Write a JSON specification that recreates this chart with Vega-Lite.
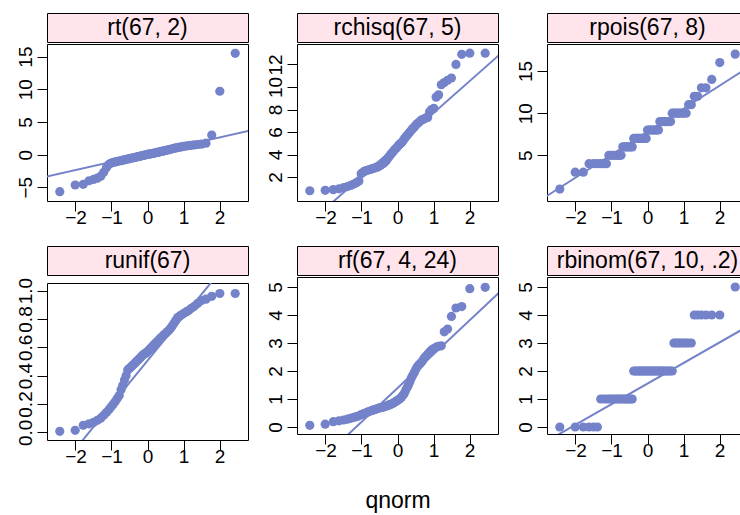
{
"$schema": "https://vega.github.io/schema/vega-lite/v6.json",
"padding": {"left": 15, "top": 12, "right": 0, "bottom": 0},
"background": "white",
"columns": 3,
"spacing": {"row": 17, "column": 16},
"datasets": {
"rt": [{"q":-2.435,"v":-5.67},{"q":-2.007,"v":-4.65},{"q":-1.783,"v":-4.55},{"q":-1.623,"v":-4.0},{"q":-1.497,"v":-3.8},{"q":-1.391,"v":-3.6},{"q":-1.299,"v":-3.3},{"q":-1.216,"v":-2.7},{"q":-1.141,"v":-2.0},{"q":-1.072,"v":-1.5},{"q":-1.008,"v":-1.3},{"q":-0.948,"v":-1.2},{"q":-0.891,"v":-1.12},{"q":-0.837,"v":-1.05},{"q":-0.784,"v":-0.98},{"q":-0.734,"v":-0.92},{"q":-0.686,"v":-0.86},{"q":-0.639,"v":-0.8},{"q":-0.595,"v":-0.74},{"q":-0.55,"v":-0.68},{"q":-0.507,"v":-0.62},{"q":-0.466,"v":-0.57},{"q":-0.424,"v":-0.52},{"q":-0.383,"v":-0.47},{"q":-0.343,"v":-0.42},{"q":-0.304,"v":-0.37},{"q":-0.264,"v":-0.32},{"q":-0.226,"v":-0.27},{"q":-0.188,"v":-0.22},{"q":-0.15,"v":-0.17},{"q":-0.112,"v":-0.12},{"q":-0.075,"v":-0.07},{"q":-0.037,"v":-0.02},{"q":0,"v":0.02},{"q":0.037,"v":0.06},{"q":0.075,"v":0.1},{"q":0.112,"v":0.15},{"q":0.15,"v":0.19},{"q":0.188,"v":0.24},{"q":0.226,"v":0.28},{"q":0.264,"v":0.33},{"q":0.304,"v":0.38},{"q":0.343,"v":0.43},{"q":0.383,"v":0.48},{"q":0.424,"v":0.53},{"q":0.466,"v":0.58},{"q":0.507,"v":0.64},{"q":0.55,"v":0.7},{"q":0.595,"v":0.76},{"q":0.639,"v":0.82},{"q":0.686,"v":0.88},{"q":0.734,"v":0.95},{"q":0.784,"v":1.02},{"q":0.837,"v":1.08},{"q":0.891,"v":1.14},{"q":0.948,"v":1.2},{"q":1.008,"v":1.26},{"q":1.072,"v":1.32},{"q":1.141,"v":1.38},{"q":1.216,"v":1.43},{"q":1.299,"v":1.48},{"q":1.391,"v":1.55},{"q":1.497,"v":1.6},{"q":1.623,"v":1.75},{"q":1.783,"v":3.0},{"q":2.007,"v":9.7},{"q":2.435,"v":15.5}],
"rt_l": [{"q":-3,"v":-3.62},{"q":3,"v":3.88}],
"rchisq": [{"q":-2.435,"v":0.78},{"q":-2.007,"v":0.82},{"q":-1.783,"v":0.88},{"q":-1.623,"v":0.95},{"q":-1.497,"v":1.05},{"q":-1.391,"v":1.15},{"q":-1.299,"v":1.25},{"q":-1.216,"v":1.38},{"q":-1.141,"v":1.5},{"q":-1.072,"v":1.65},{"q":-1.008,"v":2.3},{"q":-0.948,"v":2.45},{"q":-0.891,"v":2.55},{"q":-0.837,"v":2.6},{"q":-0.784,"v":2.65},{"q":-0.734,"v":2.7},{"q":-0.686,"v":2.75},{"q":-0.639,"v":2.8},{"q":-0.595,"v":2.85},{"q":-0.55,"v":2.9},{"q":-0.507,"v":3.0},{"q":-0.466,"v":3.05},{"q":-0.424,"v":3.15},{"q":-0.383,"v":3.25},{"q":-0.343,"v":3.35},{"q":-0.304,"v":3.5},{"q":-0.264,"v":3.7},{"q":-0.226,"v":3.85},{"q":-0.188,"v":4.0},{"q":-0.15,"v":4.15},{"q":-0.112,"v":4.3},{"q":-0.075,"v":4.45},{"q":-0.037,"v":4.55},{"q":0,"v":4.7},{"q":0.037,"v":4.85},{"q":0.075,"v":4.95},{"q":0.112,"v":5.05},{"q":0.15,"v":5.2},{"q":0.188,"v":5.4},{"q":0.226,"v":5.55},{"q":0.264,"v":5.7},{"q":0.304,"v":5.85},{"q":0.343,"v":6.0},{"q":0.383,"v":6.15},{"q":0.424,"v":6.3},{"q":0.466,"v":6.45},{"q":0.507,"v":6.6},{"q":0.55,"v":6.75},{"q":0.595,"v":6.85},{"q":0.639,"v":7.0},{"q":0.686,"v":7.1},{"q":0.734,"v":7.15},{"q":0.784,"v":7.25},{"q":0.837,"v":7.3},{"q":0.891,"v":7.8},{"q":0.948,"v":8.0},{"q":1.008,"v":8.1},{"q":1.072,"v":9.1},{"q":1.141,"v":9.3},{"q":1.216,"v":10.2},{"q":1.299,"v":10.4},{"q":1.391,"v":10.6},{"q":1.497,"v":10.8},{"q":1.623,"v":12.0},{"q":1.783,"v":12.9},{"q":2.007,"v":13.0},{"q":2.435,"v":13.0}],
"rchisq_l": [{"q":-3,"v":-3.63},{"q":3,"v":13.35}],
"rpois": [{"q":-2.435,"v":1},{"q":-2.007,"v":3},{"q":-1.783,"v":3},{"q":-1.623,"v":4},{"q":-1.497,"v":4},{"q":-1.391,"v":4},{"q":-1.299,"v":4},{"q":-1.216,"v":4},{"q":-1.141,"v":4},{"q":-1.072,"v":5},{"q":-1.008,"v":5},{"q":-0.948,"v":5},{"q":-0.891,"v":5},{"q":-0.837,"v":5},{"q":-0.784,"v":5},{"q":-0.734,"v":5},{"q":-0.686,"v":6},{"q":-0.639,"v":6},{"q":-0.595,"v":6},{"q":-0.55,"v":6},{"q":-0.507,"v":6},{"q":-0.466,"v":6},{"q":-0.424,"v":6},{"q":-0.383,"v":7},{"q":-0.343,"v":7},{"q":-0.304,"v":7},{"q":-0.264,"v":7},{"q":-0.226,"v":7},{"q":-0.188,"v":7},{"q":-0.15,"v":7},{"q":-0.112,"v":7},{"q":-0.075,"v":7},{"q":-0.037,"v":7},{"q":0,"v":8},{"q":0.037,"v":8},{"q":0.075,"v":8},{"q":0.112,"v":8},{"q":0.15,"v":8},{"q":0.188,"v":8},{"q":0.226,"v":8},{"q":0.264,"v":8},{"q":0.304,"v":8},{"q":0.343,"v":9},{"q":0.383,"v":9},{"q":0.424,"v":9},{"q":0.466,"v":9},{"q":0.507,"v":9},{"q":0.55,"v":9},{"q":0.595,"v":9},{"q":0.639,"v":9},{"q":0.686,"v":10},{"q":0.734,"v":10},{"q":0.784,"v":10},{"q":0.837,"v":10},{"q":0.891,"v":10},{"q":0.948,"v":10},{"q":1.008,"v":10},{"q":1.072,"v":10},{"q":1.141,"v":11},{"q":1.216,"v":11},{"q":1.299,"v":12},{"q":1.391,"v":12},{"q":1.497,"v":13},{"q":1.623,"v":13},{"q":1.783,"v":14},{"q":2.007,"v":16},{"q":2.435,"v":17}],
"rpois_l": [{"q":-3,"v":-0.39},{"q":3,"v":15.99}],
"runif": [{"q":-2.435,"v":0.007},{"q":-2.007,"v":0.014},{"q":-1.783,"v":0.05},{"q":-1.623,"v":0.06},{"q":-1.497,"v":0.07},{"q":-1.391,"v":0.085},{"q":-1.299,"v":0.1},{"q":-1.216,"v":0.12},{"q":-1.141,"v":0.14},{"q":-1.072,"v":0.16},{"q":-1.008,"v":0.18},{"q":-0.948,"v":0.2},{"q":-0.891,"v":0.22},{"q":-0.837,"v":0.24},{"q":-0.784,"v":0.26},{"q":-0.734,"v":0.3},{"q":-0.686,"v":0.33},{"q":-0.639,"v":0.37},{"q":-0.595,"v":0.4},{"q":-0.55,"v":0.44},{"q":-0.507,"v":0.45},{"q":-0.466,"v":0.46},{"q":-0.424,"v":0.47},{"q":-0.383,"v":0.48},{"q":-0.343,"v":0.49},{"q":-0.304,"v":0.5},{"q":-0.264,"v":0.51},{"q":-0.226,"v":0.52},{"q":-0.188,"v":0.53},{"q":-0.15,"v":0.54},{"q":-0.112,"v":0.55},{"q":-0.075,"v":0.555},{"q":-0.037,"v":0.56},{"q":0,"v":0.57},{"q":0.037,"v":0.58},{"q":0.075,"v":0.59},{"q":0.112,"v":0.6},{"q":0.15,"v":0.61},{"q":0.188,"v":0.62},{"q":0.226,"v":0.63},{"q":0.264,"v":0.64},{"q":0.304,"v":0.65},{"q":0.343,"v":0.66},{"q":0.383,"v":0.67},{"q":0.424,"v":0.68},{"q":0.466,"v":0.69},{"q":0.507,"v":0.7},{"q":0.55,"v":0.71},{"q":0.595,"v":0.72},{"q":0.639,"v":0.735},{"q":0.686,"v":0.75},{"q":0.734,"v":0.77},{"q":0.784,"v":0.79},{"q":0.837,"v":0.81},{"q":0.891,"v":0.82},{"q":0.948,"v":0.83},{"q":1.008,"v":0.84},{"q":1.072,"v":0.85},{"q":1.141,"v":0.86},{"q":1.216,"v":0.875},{"q":1.299,"v":0.89},{"q":1.391,"v":0.91},{"q":1.497,"v":0.93},{"q":1.623,"v":0.94},{"q":1.783,"v":0.96},{"q":2.007,"v":0.98},{"q":2.435,"v":0.98}],
"runif_l": [{"q":-3,"v":-0.43},{"q":3,"v":1.442}],
"rf": [{"q":-2.435,"v":0.06},{"q":-2.007,"v":0.1},{"q":-1.783,"v":0.19},{"q":-1.623,"v":0.22},{"q":-1.497,"v":0.25},{"q":-1.391,"v":0.28},{"q":-1.299,"v":0.31},{"q":-1.216,"v":0.34},{"q":-1.141,"v":0.37},{"q":-1.072,"v":0.4},{"q":-1.008,"v":0.44},{"q":-0.948,"v":0.47},{"q":-0.891,"v":0.5},{"q":-0.837,"v":0.53},{"q":-0.784,"v":0.55},{"q":-0.734,"v":0.58},{"q":-0.686,"v":0.6},{"q":-0.639,"v":0.62},{"q":-0.595,"v":0.64},{"q":-0.55,"v":0.66},{"q":-0.507,"v":0.68},{"q":-0.466,"v":0.69},{"q":-0.424,"v":0.7},{"q":-0.383,"v":0.72},{"q":-0.343,"v":0.73},{"q":-0.304,"v":0.75},{"q":-0.264,"v":0.77},{"q":-0.226,"v":0.79},{"q":-0.188,"v":0.81},{"q":-0.15,"v":0.83},{"q":-0.112,"v":0.86},{"q":-0.075,"v":0.89},{"q":-0.037,"v":0.92},{"q":0,"v":0.95},{"q":0.037,"v":0.98},{"q":0.075,"v":1.02},{"q":0.112,"v":1.07},{"q":0.15,"v":1.13},{"q":0.188,"v":1.2},{"q":0.226,"v":1.3},{"q":0.264,"v":1.4},{"q":0.304,"v":1.5},{"q":0.343,"v":1.62},{"q":0.383,"v":1.75},{"q":0.424,"v":1.85},{"q":0.466,"v":1.95},{"q":0.507,"v":2.05},{"q":0.55,"v":2.15},{"q":0.595,"v":2.22},{"q":0.639,"v":2.28},{"q":0.686,"v":2.35},{"q":0.734,"v":2.45},{"q":0.784,"v":2.52},{"q":0.837,"v":2.6},{"q":0.891,"v":2.68},{"q":0.948,"v":2.75},{"q":1.008,"v":2.8},{"q":1.072,"v":2.85},{"q":1.141,"v":2.88},{"q":1.216,"v":2.9},{"q":1.299,"v":3.4},{"q":1.391,"v":3.5},{"q":1.497,"v":3.95},{"q":1.623,"v":4.25},{"q":1.783,"v":4.3},{"q":2.007,"v":4.94},{"q":2.435,"v":4.99}],
"rf_l": [{"q":-3,"v":-2.24},{"q":3,"v":5.02}],
"rbinom": [{"q":-2.435,"v":0},{"q":-2.007,"v":0},{"q":-1.783,"v":0},{"q":-1.623,"v":0},{"q":-1.497,"v":0},{"q":-1.391,"v":0},{"q":-1.299,"v":1},{"q":-1.216,"v":1},{"q":-1.141,"v":1},{"q":-1.072,"v":1},{"q":-1.008,"v":1},{"q":-0.948,"v":1},{"q":-0.891,"v":1},{"q":-0.837,"v":1},{"q":-0.784,"v":1},{"q":-0.734,"v":1},{"q":-0.686,"v":1},{"q":-0.639,"v":1},{"q":-0.595,"v":1},{"q":-0.55,"v":1},{"q":-0.507,"v":1},{"q":-0.466,"v":1},{"q":-0.424,"v":1},{"q":-0.383,"v":2},{"q":-0.343,"v":2},{"q":-0.304,"v":2},{"q":-0.264,"v":2},{"q":-0.226,"v":2},{"q":-0.188,"v":2},{"q":-0.15,"v":2},{"q":-0.112,"v":2},{"q":-0.075,"v":2},{"q":-0.037,"v":2},{"q":0,"v":2},{"q":0.037,"v":2},{"q":0.075,"v":2},{"q":0.112,"v":2},{"q":0.15,"v":2},{"q":0.188,"v":2},{"q":0.226,"v":2},{"q":0.264,"v":2},{"q":0.304,"v":2},{"q":0.343,"v":2},{"q":0.383,"v":2},{"q":0.424,"v":2},{"q":0.466,"v":2},{"q":0.507,"v":2},{"q":0.55,"v":2},{"q":0.595,"v":2},{"q":0.639,"v":2},{"q":0.686,"v":2},{"q":0.734,"v":3},{"q":0.784,"v":3},{"q":0.837,"v":3},{"q":0.891,"v":3},{"q":0.948,"v":3},{"q":1.008,"v":3},{"q":1.072,"v":3},{"q":1.141,"v":3},{"q":1.216,"v":3},{"q":1.299,"v":4},{"q":1.391,"v":4},{"q":1.497,"v":4},{"q":1.623,"v":4},{"q":1.783,"v":4},{"q":2.007,"v":4},{"q":2.435,"v":5}],
"rbinom_l": [{"q":-3,"v":-0.655},{"q":3,"v":3.755}]
},
"concat": [
{"spacing": 0, "vconcat": [
 {"width": 201, "height": 29, "data": {"values": [{"t": "rt(67, 2)"}]}, "mark": {"type": "text", "fontSize": 23, "color": "black"}, "encoding": {"text": {"field": "t", "type": "nominal"}}, "view": {"fill": "#ffe4ec", "stroke": "black"}},
 {"width": 201, "height": 157, "view": {"stroke": "black", "fill": "white"},
  "encoding": {
   "x": {"field": "q", "type": "quantitative", "scale": {"domain": [-2.79, 2.79], "nice": false, "zero": false}, "axis": {"values": [-2,-1,0,1,2], "title": null, "labelOverlap": false}},
   "y": {"field": "v", "type": "quantitative", "scale": {"domain": [-7.1, 16.93], "nice": false, "zero": false}, "axis": {"values": [-5,0,5,10,15], "title": null, "labelOverlap": false}}},
  "layer": [
  {"data": {"name": "rt"}, "mark": {"type": "circle"}},
  {"data": {"name": "rt_l"}, "mark": {"type": "line", "clip": true}}
 ]}
]},
{"spacing": 0, "vconcat": [
 {"width": 201, "height": 29, "data": {"values": [{"t": "rchisq(67, 5)"}]}, "mark": {"type": "text", "fontSize": 23, "color": "black"}, "encoding": {"text": {"field": "t", "type": "nominal"}}, "view": {"fill": "#ffe4ec", "stroke": "black"}},
 {"width": 201, "height": 157, "view": {"stroke": "black", "fill": "white"},
  "encoding": {
   "x": {"field": "q", "type": "quantitative", "scale": {"domain": [-2.79, 2.79], "nice": false, "zero": false}, "axis": {"values": [-2,-1,0,1,2], "title": null, "labelOverlap": false}},
   "y": {"field": "v", "type": "quantitative", "scale": {"domain": [-0.13, 13.82], "nice": false, "zero": false}, "axis": {"values": [2,4,6,8,10,12], "title": null, "labelOverlap": false}}},
  "layer": [
  {"data": {"name": "rchisq"}, "mark": {"type": "circle"}},
  {"data": {"name": "rchisq_l"}, "mark": {"type": "line", "clip": true}}
 ]}
]},
{"spacing": 0, "vconcat": [
 {"width": 201, "height": 29, "data": {"values": [{"t": "rpois(67, 8)"}]}, "mark": {"type": "text", "fontSize": 23, "color": "black"}, "encoding": {"text": {"field": "t", "type": "nominal"}}, "view": {"fill": "#ffe4ec", "stroke": "black"}},
 {"width": 201, "height": 157, "view": {"stroke": "black", "fill": "white"},
  "encoding": {
   "x": {"field": "q", "type": "quantitative", "scale": {"domain": [-2.79, 2.79], "nice": false, "zero": false}, "axis": {"values": [-2,-1,0,1,2], "title": null, "labelOverlap": false}},
   "y": {"field": "v", "type": "quantitative", "scale": {"domain": [-0.42, 18.2], "nice": false, "zero": false}, "axis": {"values": [5,10,15], "title": null, "labelOverlap": false}}},
  "layer": [
  {"data": {"name": "rpois"}, "mark": {"type": "circle"}},
  {"data": {"name": "rpois_l"}, "mark": {"type": "line", "clip": true}}
 ]}
]},
{"spacing": 0, "vconcat": [
 {"width": 201, "height": 29, "data": {"values": [{"t": "runif(67)"}]}, "mark": {"type": "text", "fontSize": 23, "color": "black"}, "encoding": {"text": {"field": "t", "type": "nominal"}}, "view": {"fill": "#ffe4ec", "stroke": "black"}},
 {"width": 201, "height": 157, "view": {"stroke": "black", "fill": "white"},
  "encoding": {
   "x": {"field": "q", "type": "quantitative", "scale": {"domain": [-2.79, 2.79], "nice": false, "zero": false}, "axis": {"values": [-2,-1,0,1,2], "title": null, "labelOverlap": false}},
   "y": {"field": "v", "type": "quantitative", "scale": {"domain": [-0.054, 1.054], "nice": false, "zero": false}, "axis": {"values": [0,0.2,0.4,0.6,0.8,1.0], "format": ".1f", "title": null, "labelOverlap": false}}},
  "layer": [
  {"data": {"name": "runif"}, "mark": {"type": "circle"}},
  {"data": {"name": "runif_l"}, "mark": {"type": "line", "clip": true}}
 ]}
]},
{"spacing": 0, "vconcat": [
 {"width": 201, "height": 29, "data": {"values": [{"t": "rf(67, 4, 24)"}]}, "mark": {"type": "text", "fontSize": 23, "color": "black"}, "encoding": {"text": {"field": "t", "type": "nominal"}}, "view": {"fill": "#ffe4ec", "stroke": "black"}},
 {"width": 201, "height": 157, "view": {"stroke": "black", "fill": "white"},
  "encoding": {
   "x": {"field": "q", "type": "quantitative", "scale": {"domain": [-2.79, 2.79], "nice": false, "zero": false}, "axis": {"values": [-2,-1,0,1,2], "title": "qnorm", "titleFontSize": 23, "titleFontWeight": "normal", "titlePadding": 29, "labelOverlap": false}},
   "y": {"field": "v", "type": "quantitative", "scale": {"domain": [-0.25, 5.357], "nice": false, "zero": false}, "axis": {"values": [0,1,2,3,4,5], "title": null, "labelOverlap": false}}},
  "layer": [
  {"data": {"name": "rf"}, "mark": {"type": "circle"}},
  {"data": {"name": "rf_l"}, "mark": {"type": "line", "clip": true}}
 ]}
]},
{"spacing": 0, "vconcat": [
 {"width": 201, "height": 29, "data": {"values": [{"t": "rbinom(67, 10, .2)"}]}, "mark": {"type": "text", "fontSize": 23, "color": "black"}, "encoding": {"text": {"field": "t", "type": "nominal"}}, "view": {"fill": "#ffe4ec", "stroke": "black"}},
 {"width": 201, "height": 157, "view": {"stroke": "black", "fill": "white"},
  "encoding": {
   "x": {"field": "q", "type": "quantitative", "scale": {"domain": [-2.79, 2.79], "nice": false, "zero": false}, "axis": {"values": [-2,-1,0,1,2], "title": null, "labelOverlap": false}},
   "y": {"field": "v", "type": "quantitative", "scale": {"domain": [-0.25, 5.357], "nice": false, "zero": false}, "axis": {"values": [0,1,2,3,4,5], "title": null, "labelOverlap": false}}},
  "layer": [
  {"data": {"name": "rbinom"}, "mark": {"type": "circle"}},
  {"data": {"name": "rbinom_l"}, "mark": {"type": "line", "clip": true}}
 ]}
]}
],
"config": {
 "font": "Liberation Sans",
 "view": {"stroke": "black", "strokeWidth": 1},
 "axis": {"grid": false, "domain": false, "ticks": true, "tickColor": "black", "tickSize": 10, "tickWidth": 1, "labelColor": "black", "labelFontSize": 19, "labelFont": "Liberation Sans", "labelOverlap": false, "labelFlush": false, "labelBound": false, "labelPadding": -3, "titleColor": "black", "titleFont": "Liberation Sans"},
 "axisY": {"labelAngle": 270, "labelAlign": "center", "labelBaseline": "bottom", "labelPadding": 2},
 "circle": {"size": 85, "opacity": 1, "color": "#7483c9"},
 "line": {"color": "#7483c9", "strokeWidth": 2},
 "text": {"font": "Liberation Sans"}
}
}
